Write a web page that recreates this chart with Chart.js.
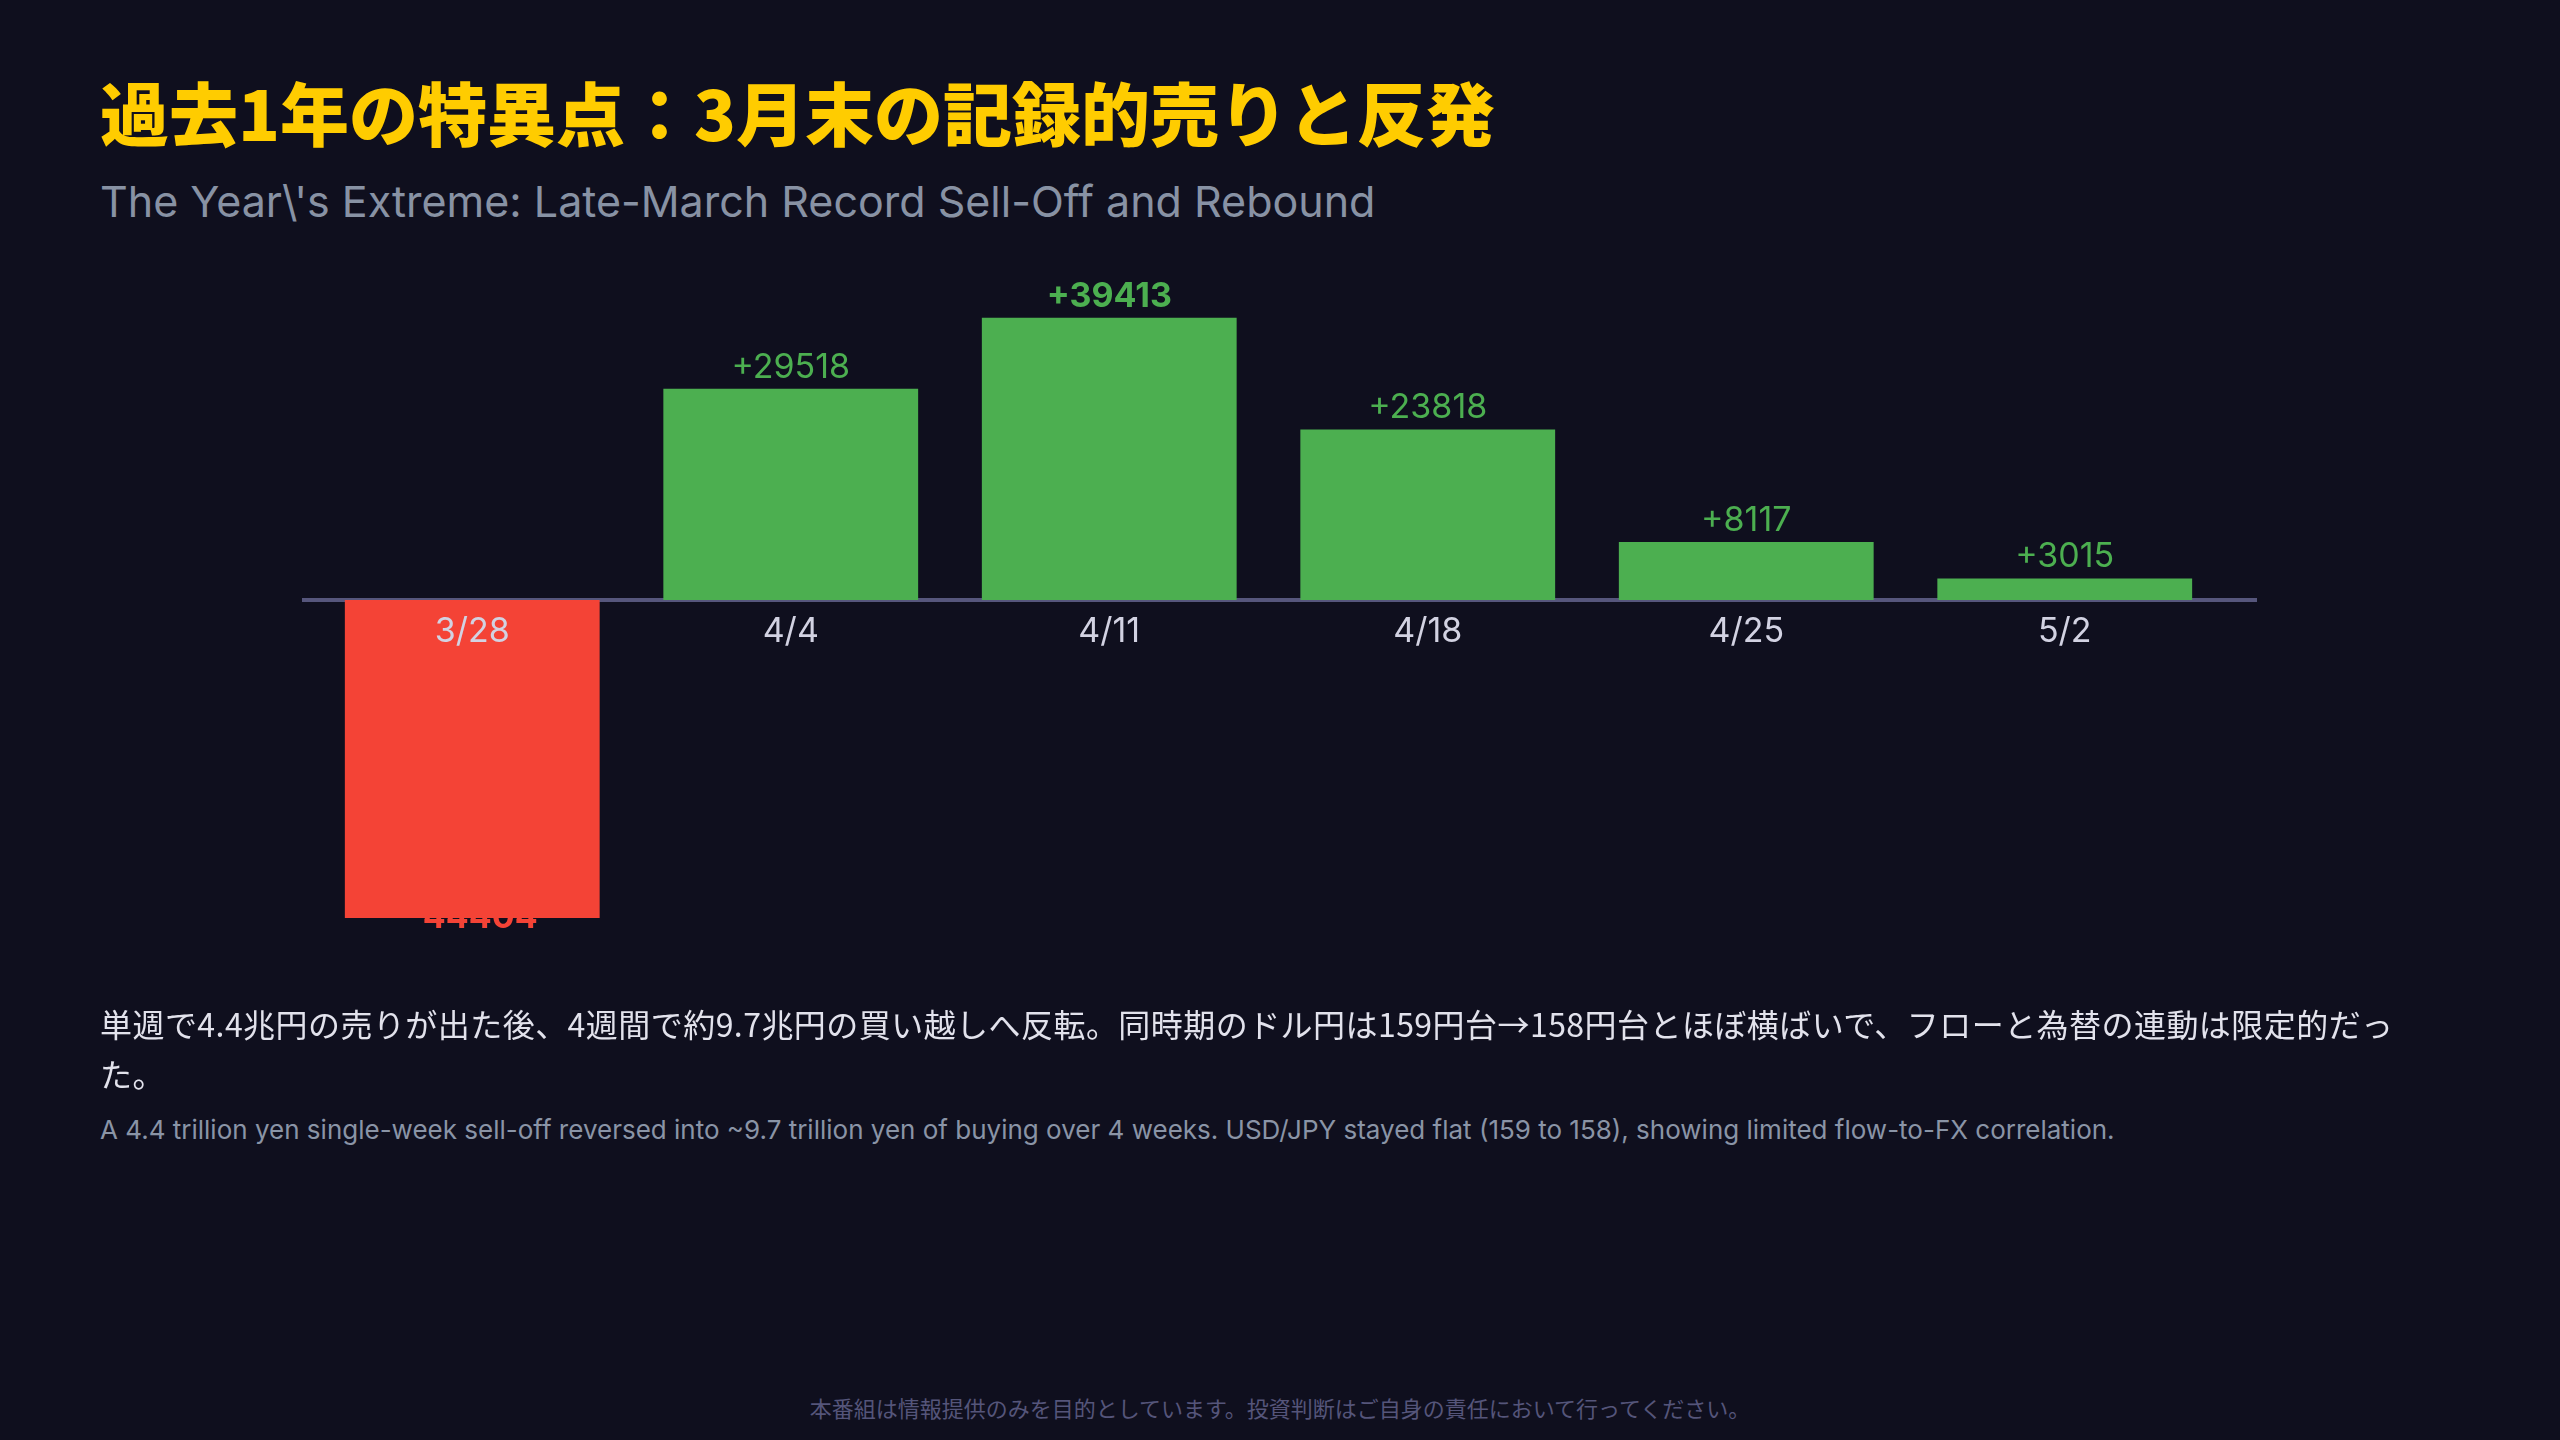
<!DOCTYPE html>
<html lang="ja">
<head>
<meta charset="utf-8">
<script src="https://cdn.jsdelivr.net/npm/chart.js@4.4.1/dist/chart.umd.min.js"></script>
<style>
  html, body { margin: 0; padding: 0; }
  body { width: 2560px; height: 1440px; background: #0f0f1e; position: relative; overflow: hidden;
         font-family: Inter, "Noto Sans CJK JP", sans-serif; }
  #title { position: absolute; left: 100px; top: 63px; margin: 0; font-size: 69px; line-height: 96px;
           font-weight: 900; color: #FFCC00; font-family: "Noto Sans CJK JP", sans-serif; white-space: nowrap; }
  #subtitle { position: absolute; left: 100px; top: 174px; font-size: 43px; line-height: 54px; color: #8892a4;
              font-family: Inter, "Noto Sans CJK JP", sans-serif; white-space: nowrap; }
  #chartWrap { position: absolute; left: 0; top: 0; width: 2560px; height: 1000px; }
  #bodyJa { position: absolute; left: 100px; top: 998px; width: 2320px; font-size: 32px; line-height: 50px;
            letter-spacing: 0.45px; color: #e2e2ec; font-family: "Noto Sans CJK JP", sans-serif; }
  #bodyEn { position: absolute; left: 100px; top: 1114px; font-size: 26px; line-height: 32px; color: #8a94a6;
            font-family: Inter, "Noto Sans CJK JP", sans-serif; white-space: nowrap; }
  #footer { position: absolute; left: 0; width: 2560px; top: 1392px; text-align: center; font-size: 22px;
            line-height: 30px; color: #55557a; font-family: "Noto Sans CJK JP", sans-serif; }
</style>
</head>
<body>
<h1 id="title">過去1年の特異点：3月末の記録的売りと反発</h1>
<div id="subtitle">The Year\'s Extreme: Late-March Record Sell-Off and Rebound</div>
<div id="chartWrap"><canvas id="c" width="2560" height="1000"></canvas></div>
<div id="bodyJa">単週で4.4兆円の売りが出た後、4週間で約9.7兆円の買い越しへ反転。同時期のドル円は159円台→158円台とほぼ横ばいで、フローと為替の連動は限定的だった。</div>
<div id="bodyEn">A 4.4 trillion yen single-week sell-off reversed into ~9.7 trillion yen of buying over 4 weeks. USD/JPY stayed flat (159 to 158), showing limited flow-to-FX correlation.</div>
<div id="footer">本番組は情報提供のみを目的としています。投資判断はご自身の責任において行ってください。</div>

<script>
const weeks = ["3/28", "4/4", "4/11", "4/18", "4/25", "5/2"];
const netFlows = [-44404, 29518, 39413, 23818, 8117, 3015];
const yRange = [-50000, 50000];

const GREEN = "#4CAF50";
const RED = "#F44336";

const maxVal = Math.max(...netFlows);
const minVal = Math.min(...netFlows);

const zeroLinePlugin = {
  id: "zeroLine",
  beforeDatasetsDraw(chart) {
    const ctx = chart.ctx;
    const y = chart.scales.y.getPixelForValue(0);
    ctx.save();
    ctx.strokeStyle = "#56567c";
    ctx.lineWidth = 4;
    ctx.beginPath();
    ctx.moveTo(chart.chartArea.left - 11, y);
    ctx.lineTo(chart.chartArea.right + 33, y);
    ctx.stroke();
    ctx.restore();
  }
};

const valueLabelPlugin = {
  id: "valueLabels",
  beforeDatasetsDraw(chart) {
    const ctx = chart.ctx;
    const meta = chart.getDatasetMeta(0);
    ctx.save();
    ctx.textAlign = "center";
    ctx.textBaseline = "alphabetic";
    meta.data.forEach((bar, i) => {
      const v = netFlows[i];
      const bold = (v === maxVal || v === minVal);
      ctx.font = (bold ? "700 " : "400 ") + "34px Inter, 'Noto Sans CJK JP', sans-serif";
      ctx.fillStyle = v >= 0 ? GREEN : RED;
      const txt = (v >= 0 ? "+" : "") + v;
      const y = v >= 0 ? bar.y - 11 : bar.y + 10;
      ctx.fillText(txt, bar.x, y);
    });
    ctx.restore();
  }
};

new Chart(document.getElementById("c"), {
  type: "bar",
  data: {
    labels: weeks,
    datasets: [{
      data: netFlows,
      backgroundColor: netFlows.map(v => v >= 0 ? GREEN : RED),
      borderWidth: 0,
      categoryPercentage: 0.8,
      barPercentage: 1.0
    }]
  },
  options: {
    responsive: false,
    animation: false,
    devicePixelRatio: 1,
    layout: { padding: { left: 313, right: 336, top: 242, bottom: 42 } },
    plugins: { legend: { display: false }, tooltip: { enabled: false }, title: { display: false } },
    scales: {
      x: {
        position: { y: 0 },
        z: 1,
        grid: { display: false, drawTicks: false },
        border: { display: false },
        ticks: { z: 1, color: "#d2d2e2", padding: 11, font: { size: 34, family: "Inter, 'Noto Sans CJK JP', sans-serif" } }
      },
      y: {
        display: false,
        min: yRange[0],
        max: yRange[1]
      }
    }
  },
  plugins: [zeroLinePlugin, valueLabelPlugin]
});
</script>
</body>
</html>
